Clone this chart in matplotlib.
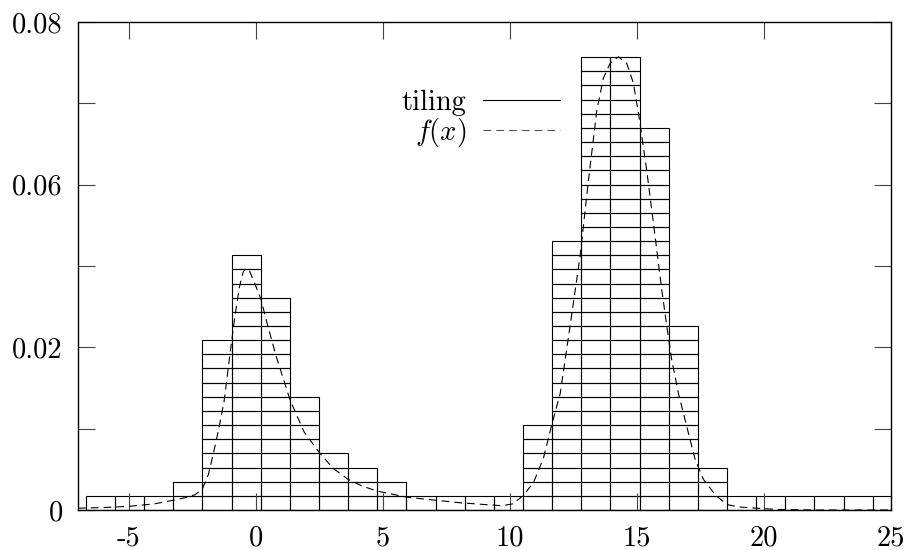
import numpy as np
import matplotlib
matplotlib.use('Agg')
import matplotlib.pyplot as plt
from matplotlib.lines import Line2D

plt.rcParams['font.family'] = 'cmr10'
plt.rcParams['mathtext.fontset'] = 'cm'
plt.rcParams['axes.unicode_minus'] = False
plt.rcParams['axes.formatter.use_mathtext'] = True

# tiling: bins of equal width, height counted in tiles
bin_start = -6.69
bin_width = 1.147
tile_height = 0.00232
tile_counts = [1, 1, 1, 2, 12, 18, 15, 8, 4, 3, 2, 1, 1, 1,
               1, 6, 19, 32, 32, 27, 13, 3, 1, 1, 1, 1, 1, 1]

# f(x)
curve_x = [-7.0, -6.0, -5.0, -4.0, -3.25, -2.8, -2.4, -2.11, -1.87, -1.67,
           -1.45, -1.25, -1.05, -0.85, -0.65, -0.5, -0.4, -0.25, -0.05, 0.19,
           0.45, 0.8, 1.35, 1.9, 2.5, 3.05, 3.64, 4.2, 4.78, 5.94,
           7.08, 8.0, 9.0, 9.7, 10.1, 10.51, 10.93, 11.32, 11.65, 11.98,
           12.24, 12.5, 12.76, 13.09, 13.42, 13.68, 13.94, 14.27, 14.6, 14.86,
           15.1, 15.39, 15.65, 15.98, 16.18, 16.37, 16.64, 16.96, 17.29, 17.62,
           18.08, 18.54, 19.0, 19.7, 20.5, 22.0, 25.0]
curve_y = [0.0003, 0.0004, 0.0006, 0.0010, 0.0016, 0.0020, 0.0025, 0.0034, 0.0058, 0.0093,
           0.0135, 0.0178, 0.0245, 0.0310, 0.0365, 0.0390, 0.0396, 0.0392, 0.0372, 0.0347,
           0.0305, 0.0252, 0.0180, 0.0128, 0.0094, 0.0068, 0.0050, 0.0039, 0.0031, 0.0021,
           0.0016, 0.0012, 0.0009, 0.0007, 0.0010, 0.0023, 0.0045, 0.0085, 0.0140, 0.0191,
           0.0265, 0.0340, 0.0415, 0.0540, 0.0655, 0.0708, 0.0732, 0.0743, 0.0732, 0.0700,
           0.0640, 0.0555, 0.0470, 0.0360, 0.0300, 0.0246, 0.0190, 0.0137, 0.0083, 0.0050,
           0.0025, 0.0009, 0.0005, 0.0003, 0.0001, 0.0, 0.0]

x_ticks = [-5, 0, 5, 10, 15, 20, 25]
x_labels = ['-5', '0', '5', '10', '15', '20', '25']
y_ticks = list(np.linspace(0, 0.08, 7))
y_labels = ['0', '', '0.02', '', '0.06', '', '0.08']

fig = plt.figure(figsize=(9.09, 5.5), dpi=100)
ax = fig.add_axes([78 / 909, 40 / 550, 813 / 909, 488 / 550])

lefts = bin_start + bin_width * np.arange(len(tile_counts))
counts = np.array(tile_counts)
for j in range(counts.max()):
    m = counts > j
    ax.bar(lefts[m], tile_height, width=bin_width, bottom=j * tile_height,
           align='edge', fill=False, edgecolor='black', linewidth=0.8)

ax.plot(curve_x, curve_y, color='black', linestyle='--', dashes=(7, 4.5), linewidth=0.8)

ax.set_xlim(-7, 25)
ax.set_ylim(0, 0.08)
ax.set_xticks(x_ticks)
ax.set_xticklabels(x_labels)
ax.set_yticks(y_ticks)
ax.set_yticklabels(y_labels)
ax.tick_params(direction='in', length=12, width=0.8, top=True, right=True,
               labelsize=20.5, color='#444444')
ax.tick_params(axis='x', pad=11)
ax.tick_params(axis='y', pad=11)
for s in ax.spines.values():
    s.set_linewidth(1.0)

handles = [Line2D([], [], color='black', linewidth=0.8),
           Line2D([], [], color='#555555', linestyle='--', dashes=(7, 4.5), linewidth=0.8)]
ax.legend(handles, ['tiling', '$f(x)$'], loc='upper right',
          bbox_to_anchor=(560 / 909, 1 - 90 / 550), bbox_transform=fig.transFigure,
          frameon=False, markerfirst=False, handlelength=2.7, handletextpad=0.6,
          labelspacing=0.0, borderpad=0, borderaxespad=0, fontsize=20.5)

fig.savefig('out.png', dpi=100)
